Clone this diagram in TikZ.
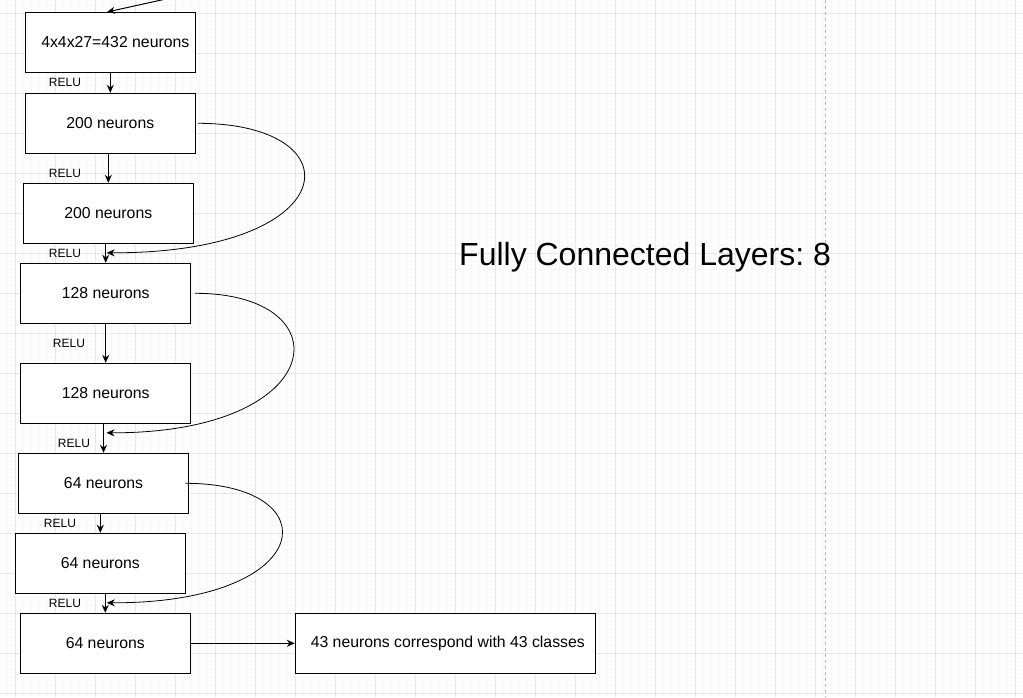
\documentclass[tikz,border=0pt]{standalone}
\usepackage{fontspec}
\setmainfont{Liberation Sans}
\usetikzlibrary{arrows.meta,calc}
\definecolor{gmajor}{RGB}{232,232,232}
\definecolor{gminor}{RGB}{247,247,247}
\definecolor{gdash}{RGB}{185,185,185}
\frenchspacing
\tikzset{
  layer/.style={draw=black, line width=1pt, fill=white, minimum width=170pt, minimum height=60pt, inner sep=0pt, font=\fontsize{15.8}{18}\selectfont},
  relu/.style={inner sep=0pt, font=\fontsize{12}{14}\selectfont},
  conn/.style={line width=1pt, -{Stealth[length=8pt,width=7pt]}},
  skip/.style={line width=0.8pt, -{Stealth[length=8pt,width=7pt]}},
  minorline/.style={gminor, line width=0.8pt},
  majorline/.style={gmajor, line width=1pt}
}
\begin{document}
\begin{tikzpicture}[x=1pt,y=-1pt]
\useasboundingbox (0,0) rectangle (1023,697);
\fill[white] (0,0) rectangle (1023,697);
% grid
\foreach \i in {0,...,127} { \draw[minorline] ({7.3+8*\i},0) -- ({7.3+8*\i},697); }
\foreach \j in {0,...,87} { \draw[minorline] (0,{5.3+8*\j}) -- (1023,{5.3+8*\j}); }
\foreach \i in {0,...,25} { \draw[majorline] ({15.3+40*\i},0) -- ({15.3+40*\i},697); }
\foreach \j in {0,...,17} { \draw[majorline] (0,{13.3+40*\j}) -- (1023,{13.3+40*\j}); }
\draw[gdash, line width=1pt, dash pattern=on 3pt off 3pt] (825.3,0) -- (825.3,697);

% layers
\node[layer] (b1) at (110.3,42.5) {\hspace*{10pt}4x4x27=432 neurons};
\node[layer] (b2) at (110.3,123.3) {200 neurons};
\node[layer] (b3) at (108.3,213.3) {200 neurons};
\node[layer] (b4) at (105.7,293.3) {128 neurons};
\node[layer] (b5) at (105.7,393.3) {128 neurons};
\node[layer] (b6) at (103.5,483.3) {64 neurons};
\node[layer] (b7) at (100.3,563.3) {64 neurons};
\node[layer] (b8) at (105.3,643.3) {64 neurons};
\node[layer, minimum width=300pt] (b9) at (445.3,643.3) {\hspace*{5pt}43 neurons correspond with 43 classes};

% RELU labels
\node[relu] (r1) at (65,82.7) {RELU};
\node[relu] (r2) at (65,173) {RELU};
\node[relu] (r3) at (65,253) {RELU};
\node[relu] (r4) at (69,343.7) {RELU};
\node[relu] (r5) at (74,443.3) {RELU};
\node[relu] (r6) at (60,523.7) {RELU};
\node[relu] (r7) at (65,603) {RELU};

% title
\node[inner sep=0pt, anchor=base west, font=\fontsize{32}{38}\selectfont] (title) at (459,265) {Fully Connected Layers: 8};

% incoming arrow
\coordinate (in) at (175,-3);
\draw[conn] (in) -- (b1.north -| 107,0);

% vertical connections
\draw[conn] (b2.north |- b1.south) -- (b2.north);
\draw[conn] (b3.north |- b2.south) -- (b3.north);
\draw[conn] (b4.north |- b3.south) -- (b4.north);
\draw[conn] (b5.north |- b4.south) -- (b5.north);
\draw[conn] (b6.north |- b5.south) -- (b6.north);
\draw[conn] (b7.north |- b6.south) -- (b7.north);
\draw[conn] (b8.north |- b7.south) -- (b8.north);
\draw[conn] (b8.east) -- (b9.west);

% skip connections
\coordinate (m1) at ($(b4.north)+(1,-10)$);
\coordinate (m2) at ($(b6.north)+(3,-20)$);
\coordinate (m3) at ($(b8.north)+(1.5,-10)$);
\draw[skip] ($(b2.east)+(2,0)$) .. controls (358,123.3) and (345,253.3) .. (m1);
\draw[skip] ($(b4.east)+(4,0)$) .. controls (345,293.3) and (330,433.3) .. (m2);
\draw[skip] ($(b6.east)+(-3.7,0)$) .. controls (331,483.3) and (318,603.3) .. (m3);
\end{tikzpicture}
\end{document}
